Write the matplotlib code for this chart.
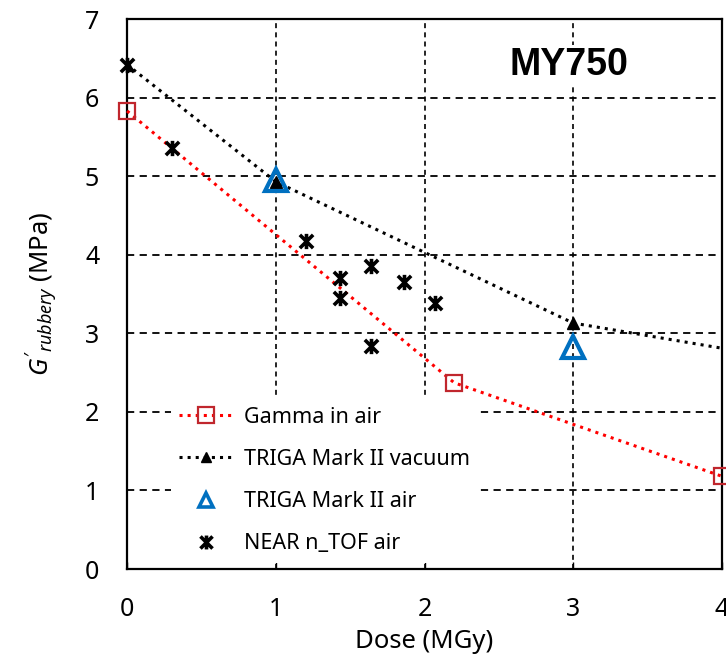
import matplotlib
matplotlib.use("Agg")
import matplotlib.pyplot as plt
from matplotlib.path import Path

plt.rcParams['font.family'] = ['Noto Sans', 'DejaVu Sans']
plt.rcParams['mathtext.fontset'] = 'custom'
plt.rcParams['mathtext.it'] = 'Noto Sans:italic'
plt.rcParams['mathtext.rm'] = 'Noto Sans'

# gamma irradiation in air
gamma_dose = [0.0, 2.2, 4.0]
gamma_g = [5.83, 2.37, 1.18]

# TRIGA reactor, vacuum (last point lies past the axis limit)
vac_dose = [0.0, 1.0, 3.0, 5.0]
vac_g = [6.42, 4.93, 3.13, 2.49]

# TRIGA reactor, air
triga_air_dose = [1.0, 3.0]
triga_air_g = [4.95, 2.82]

# NEAR station n_TOF, air
near_dose = [0.0, 0.30, 1.20, 1.43, 1.43, 1.64, 1.64, 1.86, 2.07]
near_g = [6.41, 5.36, 4.17, 3.70, 3.45, 3.86, 2.84, 3.65, 3.39]

xticks = [0, 1, 2, 3, 4]
yticks = [0, 1, 2, 3, 4, 5, 6, 7]

# star marker: an X with a vertical bar through it
star = Path([(-1, -1), (1, 1), (-1, 1), (1, -1), (0, -1.15), (0, 1.15)],
            [Path.MOVETO, Path.LINETO, Path.MOVETO, Path.LINETO, Path.MOVETO, Path.LINETO])

fig = plt.figure(figsize=(7.26, 6.56), dpi=100)
ax = fig.add_axes([0.175, 0.1326, 0.8195, 0.8384])

ax.plot(gamma_dose, gamma_g, linestyle=':', color='#FF0000', lw=2.2,
        marker='s', ms=11, mfc='none', mec='#C0262D', mew=1.6, label='Gamma in air',
        clip_on=False, zorder=4)
ax.plot(vac_dose, vac_g, linestyle=':', color='black', lw=2.2,
        marker='^', ms=8, mfc='black', mec='black', label='TRIGA Mark II vacuum', zorder=4)
ax.plot(triga_air_dose, triga_air_g, linestyle='none',
        marker='^', ms=16, mfc='none', mec='#0070C0', mew=3, label='TRIGA Mark II air', zorder=5)
ax.plot(near_dose, near_g, linestyle='none',
        marker=star, ms=11, color='black', mew=2.6, label='NEAR n_TOF air',
        clip_on=False, zorder=6)

ax.set_xlim(0, 4)
ax.set_ylim(0, 7)
ax.set_xticks(xticks)
ax.set_yticks(yticks)
ax.tick_params(axis='both', labelsize=18, direction='in', length=5, width=1)
ax.tick_params(axis='x', pad=20)
ax.tick_params(axis='y', pad=20, length=0)
ax.grid(True, color='black', linestyle=(0, (4, 3)), linewidth=1.3)
ax.xaxis.grid(True, linestyle=(0, (3, 2.5)), linewidth=1.2)
ax.set_axisbelow(True)
for s in ax.spines.values():
    s.set_linewidth(1.6)

ax.set_xlabel('Dose (MGy)', fontsize=18.5, labelpad=5)
ax.set_ylabel(r"$G'_{rubbery}$ (MPa)", fontsize=18.5, labelpad=18)

ax.text(2.97, 6.41, 'MY750', fontsize=27, fontweight='bold', family='Liberation Sans',
        ha='center', va='center', zorder=3,
        bbox=dict(facecolor='white', edgecolor='none', pad=2))

leg = ax.legend(loc='upper left', bbox_to_anchor=(0.055, 0.33), fontsize=15.5,
                frameon=True, framealpha=1, edgecolor='none', fancybox=False,
                handlelength=2.5, labelspacing=0.98, borderpad=0.4, handletextpad=0.5)
leg.set_zorder(3)
# smaller symbols in the key than on the plot
for h, size in zip(leg.legend_handles, [11, 7, 10, 10]):
    h.set_markersize(size)
leg.legend_handles[2].set_markeredgewidth(2.6)

fig.savefig('out.png', dpi=100)
